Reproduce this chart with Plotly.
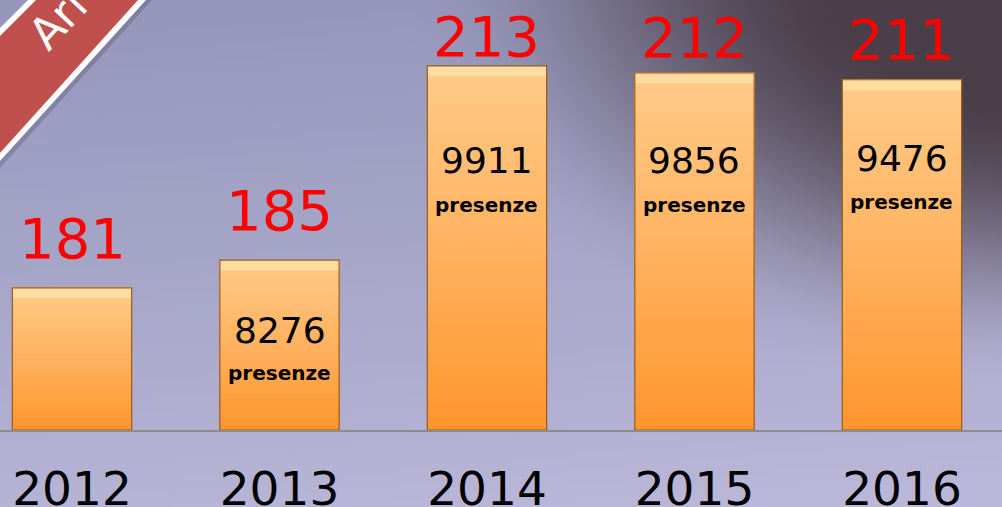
import zlib, struct, base64, math
import plotly.graph_objects as go

# ---------------- data ----------------
years = ["2012", "2013", "2014", "2015", "2016"]
values = [181, 185, 213, 212, 211]
presenze_num = ["", "8276", "9911", "9856", "9476"]
presenze_lbl = ["", "presenze", "presenze", "presenze", "presenze"]
ribbon_text = "Ari"

# ---------------- style ----------------
W, H = 1002, 507
Y0, Y1 = 160.5, 222.5           # value axis range
BAR_W = 0.575
val_shift = [49, 50, 29, 35, 40]  # px above bar top (red label centre)
num_shift = [0, 70, 95, 88, 79]   # px below bar top (text centre)
lbl_shift = [0, 113, 139, 132, 122]
FONT = "DejaVu Sans"

# ---------------- background image (decorative gradient) ----------------
def make_png(w, h, rows):
    def chunk(t, data):
        c = struct.pack(">I", len(data)) + t + data
        return c + struct.pack(">I", zlib.crc32(t + data) & 0xffffffff)
    sig = b"\x89PNG\r\n\x1a\n"
    ihdr = struct.pack(">IIBBBBB", w, h, 8, 2, 0, 0, 0)
    raw = b"".join(b"\x00" + bytes(r) for r in rows)
    return sig + chunk(b"IHDR", ihdr) + chunk(b"IDAT", zlib.compress(raw, 9)) + chunk(b"IEND", b"")

def lerp(a, b, t):
    return a + (b - a) * t

def smooth(e0, e1, x):
    t = min(max((x - e0) / (e1 - e0), 0.0), 1.0)
    return t * t * (3 - 2 * t)

iw, ih = 200, 101
rows = []
for j in range(ih):
    py = j / (ih - 1) * H
    row = []
    for i in range(iw):
        px = i / (iw - 1) * W
        ty = py / H
        base = (lerp(148, 182, ty) + px * 0.006,
                lerp(150, 180, ty) + px * 0.004,
                lerp(186, 213, ty) + px * 0.004)
        r = math.sqrt(((px - 1040) / 640) ** 2 + ((py + 40) / 430) ** 2)
        d = smooth(1.0, 0.3, r)
        dark = (74, 62, 72)
        col = [int(max(0, min(255, lerp(base[k], dark[k], d)))) for k in range(3)]
        row.extend(col)
    rows.append(row)
bg_uri = "data:image/png;base64," + base64.b64encode(make_png(iw, ih, rows)).decode()

# ---------------- figure ----------------
fig = go.Figure()

N = 28
c_bot = (255, 150, 46)
c_top = (255, 205, 140)
for k in range(N):
    f = k / N
    g = f ** 0.9
    col = "rgb(%d,%d,%d)" % tuple(int(lerp(c_bot[m], c_top[m], g)) for m in range(3))
    bases = [Y0 + (v - Y0) * f for v in values]
    fig.add_trace(go.Bar(
        x=years, y=[v - b for v, b in zip(values, bases)], base=bases,
        width=BAR_W, marker=dict(color=col, line=dict(width=0)),
        hoverinfo="skip", showlegend=False))

# top bevel highlight
BEV = 1.5
fig.add_trace(go.Bar(
    x=years, y=[BEV] * len(values), base=[v - BEV for v in values],
    width=BAR_W, marker=dict(color="rgb(255,220,160)", line=dict(width=0)),
    hoverinfo="skip", showlegend=False))

# outline
fig.add_trace(go.Bar(
    x=years, y=[v - Y0 for v in values], base=[Y0] * len(values),
    width=BAR_W,
    marker=dict(color="rgba(0,0,0,0)", line=dict(color="#9a5a1e", width=1.2)),
    hoverinfo="skip", showlegend=False))

fig.update_layout(
    width=W, height=H,
    margin=dict(l=0, r=0, t=0, b=0, pad=0, autoexpand=False),
    barmode="overlay",
    paper_bgcolor="#a6a6c6",
    plot_bgcolor="rgba(0,0,0,0)",
    showlegend=False,
    xaxis=dict(type="category", domain=[0, 1], range=[-0.347, 4.482],
               showgrid=False, zeroline=False, showline=True,
               linecolor="#8c8c8c", linewidth=2, automargin=False,
               ticks="outside", ticklen=17, tickcolor="rgba(0,0,0,0)",
               tickfont=dict(family=FONT, size=47, color="black")),
    yaxis=dict(domain=[77 / H, 1], range=[Y0, Y1], visible=False,
               showgrid=False, zeroline=False, automargin=False),
    images=[dict(source=bg_uri, xref="paper", yref="paper", x=0, y=1,
                 sizex=1, sizey=1, xanchor="left", yanchor="top",
                 sizing="stretch", layer="below")],
)

# red value labels above bars
for i in range(len(years)):
    fig.add_annotation(x=i, y=values[i], xref="x", yref="y",
                       text=str(values[i]), showarrow=False,
                       yanchor="middle", yshift=val_shift[i],
                       font=dict(family=FONT, size=56, color="#ff0000"))

# inner texts (category index positions)
for i in range(len(years)):
    if presenze_num[i]:
        fig.add_annotation(x=i, y=values[i], xref="x", yref="y",
                           text=presenze_num[i], showarrow=False,
                           yanchor="middle", yshift=-num_shift[i],
                           font=dict(family=FONT, size=36, color="black"))
        fig.add_annotation(x=i, y=values[i], xref="x", yref="y",
                           text="<b>" + presenze_lbl[i] + "</b>", showarrow=False,
                           yanchor="middle", yshift=-lbl_shift[i],
                           font=dict(family=FONT, size=20, color="black"))

# ribbon
def P(x, y):
    return "%.5f,%.5f" % (x / W, 1 - y / H)

def poly(pts):
    return "M " + " L ".join(P(*p) for p in pts) + " Z"

fig.add_shape(type="path", xref="paper", yref="paper", layer="above",
              path=poly([(0, 160), (145, 0), (152, 0), (0, 168)]),
              fillcolor="rgba(60,55,90,0.25)", line=dict(width=0))
fig.add_shape(type="path", xref="paper", yref="paper", layer="above",
              path=poly([(0, 28), (28, 0), (146, 0), (0, 161)]),
              fillcolor="white", line=dict(width=0))
fig.add_shape(type="path", xref="paper", yref="paper", layer="above",
              path=poly([(0, 36), (36, 0), (138, 0), (0, 153)]),
              fillcolor="#c0504d", line=dict(width=0))
fig.add_annotation(xref="paper", yref="paper", x=58 / W, y=1 - 20 / H,
                   text=ribbon_text, showarrow=False, textangle=-47,
                   xanchor="center", yanchor="middle",
                   font=dict(family=FONT, size=44, color="white"))

fig.write_html("out.html", config={"displayModeBar": False, "staticPlot": True},
               post_script="document.body.style.margin='0';document.body.style.overflow='hidden';")
